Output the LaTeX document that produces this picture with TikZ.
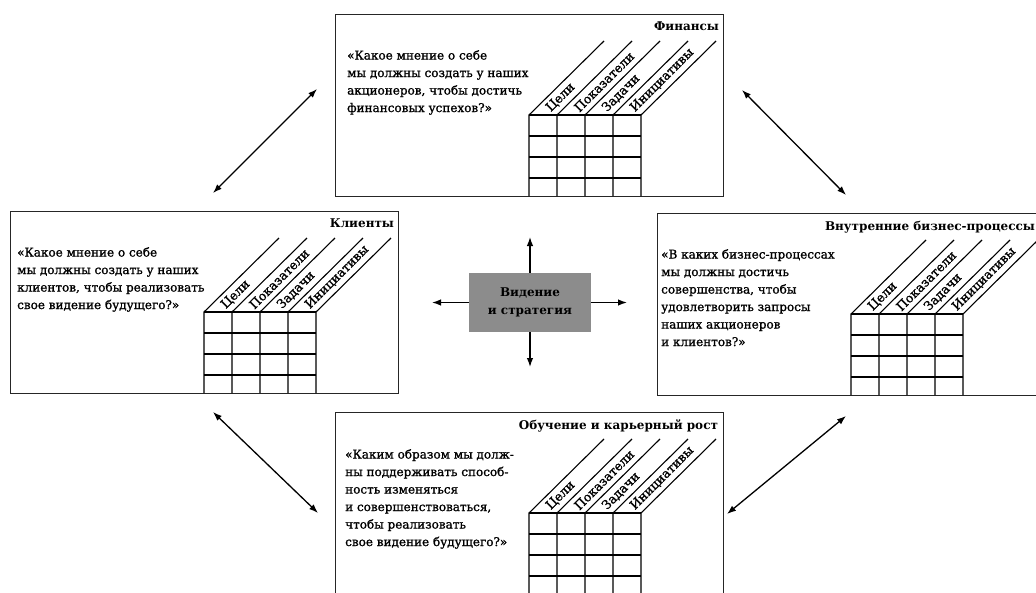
\documentclass[tikz,border=0pt]{standalone}
\usepackage{fontspec}
\setmainfont{DejaVu Serif}
\newfontfamily\qfont{DejaVu Serif}[FakeBold=1.2]
\usetikzlibrary{arrows.meta}
\usetikzlibrary{positioning}
\tikzset{
    >={Latex[width=6.5pt,length=9pt]},
    panel/.style =    {
                        rectangle, draw=black!85, line width=1.2pt,
                        minimum width=388pt, minimum height=182pt,
                        inner sep=0pt, anchor=north west
                      },
    heading/.style =  {font=\bfseries\fontsize{12}{14}\selectfont, inner sep=0pt},
    question/.style = {align=left, font=\qfont\fontsize{12}{17.5}\selectfont, inner sep=0pt},
    colhead/.style =  {font=\qfont\fontsize{12.5}{14}\selectfont, rotate=45, anchor=west, inner sep=0pt},
    core/.style =     {
                        fill=black!45, minimum width=122pt, minimum height=59pt,
                        align=center, font=\bfseries\fontsize{12}{18}\selectfont
                      },
    link/.style =     {<->, line width=1.3pt}
}
% grid with slanted column heads inside a panel
\newcommand{\bscgrid}[1]{%
  \begin{scope}[shift={(#1.north west)}, shift={(194,101)}, line width=1.1pt]
    \foreach \r in {0,21,42,63} \draw (0,\r) -- (112,\r);
    \foreach \c in {0,28,56,84,112} \draw (\c,81) -- (\c,0) -- ++(75,-74);
    \foreach \t [count=\i] in {Цели,Показатели,Задачи,Инициативы}
      \node[colhead] at (\i*28-14+5,-5) {\t};
  \end{scope}}

\begin{document}
\begin{tikzpicture}[x=1pt, y=-1pt]
    \useasboundingbox (0,0) rectangle (1036,592);

    \node (fin)   [panel] at (335,14)  {};
    \node (cli)   [panel] at (10,211)  {};
    \node (proc)  [panel] at (657,213) {};
    \node (grow)  [panel] at (335,412) {};

    \node (fin_t)  [heading, below left=8pt and 5pt of fin.north east]   {Финансы};
    \node (cli_t)  [heading, below left=8pt and 5pt of cli.north east]   {Клиенты};
    \node (proc_t) [heading, below left=8pt and 11pt of proc.north east] {Внутренние бизнес-процессы};
    \node (grow_t) [heading, below left=7pt and 6pt of grow.north east]  {Обучение и карьерный рост};

    \node (fin_q)  [question, below right=36pt and 12pt of fin.north west]
        {«Какое мнение о себе\\мы должны создать у наших\\акционеров, чтобы достичь\\финансовых успехов?»};
    \node (cli_q)  [question, below right=36pt and 7pt of cli.north west]
        {«Какое мнение о себе\\мы должны создать у наших\\клиентов, чтобы реализовать\\свое видение будущего?»};
    \node (proc_q) [question, below right=36pt and 4pt of proc.north west]
        {«В каких бизнес-процессах\\мы должны достичь\\совершенства, чтобы\\удовлетворить запросы\\наших акционеров\\и клиентов?»};
    \node (grow_q) [question, below right=37pt and 10pt of grow.north west]
        {«Каким образом мы долж-\\ны поддерживать способ-\\ность изменяться\\и совершенствоваться,\\чтобы реализовать\\свое видение будущего?»};

    \bscgrid{fin}
    \bscgrid{cli}
    \bscgrid{proc}
    \bscgrid{grow}

    \node (vision) [core] at (530,302.5) {Видение\\и стратегия};
    \coordinate (v_up)    at (530,237);
    \coordinate (v_down)  at (530,367);
    \coordinate (v_left)  at (432,302.5);
    \coordinate (v_right) at (627,302.5);
    \draw[->, line width=1.3pt] (vision.north) -- (v_up);
    \draw[->, line width=1.3pt] (vision.south) -- (v_down);
    \draw[->, line width=1.3pt] (vision.west)  -- (v_left);
    \draw[->, line width=1.3pt] (vision.east)  -- (v_right);

    \coordinate (tl_a) at (213,193);  \coordinate (tl_b) at (317,89);
    \coordinate (tr_a) at (742,90);   \coordinate (tr_b) at (846,195);
    \coordinate (bl_a) at (213,412);  \coordinate (bl_b) at (318,513);
    \coordinate (br_a) at (727,514);  \coordinate (br_b) at (846,416);
    \draw[link] (tl_a) -- (tl_b);
    \draw[link] (tr_a) -- (tr_b);
    \draw[link] (bl_a) -- (bl_b);
    \draw[link] (br_a) -- (br_b);
\end{tikzpicture}
\end{document}
